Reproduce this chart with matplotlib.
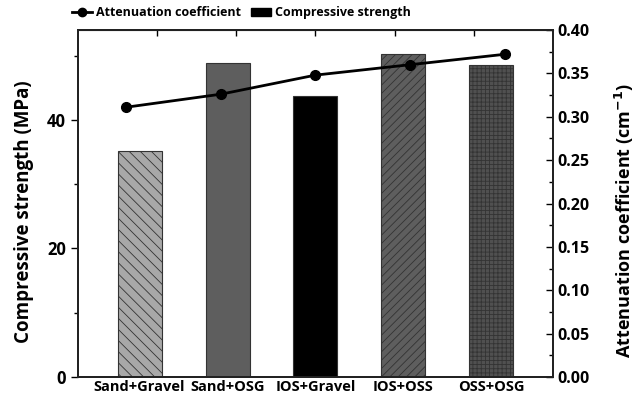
import matplotlib
matplotlib.use('Agg')
from matplotlib import pyplot as plt
from matplotlib.lines import Line2D
from matplotlib.patches import Patch

# данные
mixes = ['Sand+Gravel', 'Sand+OSG', 'IOS+Gravel', 'IOS+OSS', 'OSS+OSG']
strength = [35.2, 48.8, 43.7, 50.2, 48.5]
attenuation = [0.311, 0.326, 0.348, 0.360, 0.372]
left_ticks = [0, 20, 40]
right_ticks = [0.00, 0.05, 0.10, 0.15, 0.20, 0.25, 0.30, 0.35, 0.40]

bar_colors = ['#a8a8a8', '#5e5e5e', '#000000', '#5e5e5e', '#505050']
hatches = ['\\\\\\', '', '', '////', '++++']

plt.rcParams['font.family'] = ['Open Sans', 'DejaVu Sans']
plt.rcParams['hatch.linewidth'] = 0.6
plt.rcParams['hatch.color'] = '#303030'

fig = plt.figure(figsize=(6.43, 4.0), dpi=100)
ax = fig.add_axes([0.1213, 0.0575, 0.7387, 0.8675])

xs = list(range(len(mixes)))
for i in xs:
    ax.bar(i, strength[i], width=0.5, color=bar_colors[i], hatch=hatches[i],
           edgecolor='#333333', linewidth=0.8)

ax.set_xlim(-0.7, 4.7)
ax.set_ylim(0, 54)
ax.set_yticks(left_ticks, labels=[str(v) for v in left_ticks],
              fontsize=12, fontweight='bold')
ax.set_yticks([10, 30, 50], minor=True)
ax.set_xticks(xs, labels=mixes, fontsize=10.5, fontweight='bold')
ax.tick_params(axis='x', length=0, pad=2)
ax.tick_params(axis='y', which='major', direction='out', length=5, width=1)
ax.tick_params(axis='y', which='minor', direction='out', length=3, width=1)
ax.set_ylabel('Compressive strength (MPa)', fontsize=13.5, fontweight='bold')
ax.yaxis.set_label_coords(-0.093, 0.475)
for s in ax.spines.values():
    s.set_linewidth(1.2)
    s.set_color('#222222')

# верхние засечки
top = ax.secondary_xaxis('top')
top.set_xticks([0.2, 1.1, 2.0, 2.9, 3.8])
top.set_xticklabels([])
top.tick_params(direction='in', length=4, width=1)

# линия коэффициента ослабления
ax2 = ax.twinx()
ax3 = ax2.twiny()
ax3.plot(xs, attenuation, color='black', linewidth=2, marker='o',
         markersize=7)
ax3.set_xlim(-0.51, 4.51)
ax3.set_xticks([])
ax2.set_ylim(0, 0.40)
ax3.set_ylim(0, 0.40)
ax2.set_yticks(right_ticks, labels=['%.2f' % v for v in right_ticks],
               fontsize=11.5, fontweight='bold')
ax2.set_yticks([0.025 + 0.05 * k for k in range(8)], minor=True)
ax2.tick_params(axis='y', which='major', direction='in', length=5, width=1,
                pad=3)
ax2.tick_params(axis='y', which='minor', direction='in', length=3, width=1)
ax2.set_ylabel('Attenuation coefficient (cm$^{\\mathbf{-1}}$)', fontsize=13,
               fontweight='bold')
ax2.yaxis.set_label_coords(1.126, 0.45)
for a in (ax2, ax3):
    for s in a.spines.values():
        s.set_linewidth(1.2)
        s.set_color('#222222')

handles = [Line2D([0], [0], color='black', linewidth=2, marker='o', markersize=6),
           Patch(facecolor='black', edgecolor='black')]
fig.legend(handles, ['Attenuation coefficient', 'Compressive strength'],
           loc='center left', bbox_to_anchor=(0.095, 0.968), ncol=2,
           frameon=False, handlelength=1.6, handletextpad=0.3,
           columnspacing=0.8, prop={'weight': 'bold', 'size': 9})

fig.savefig('out.png', dpi=100)
